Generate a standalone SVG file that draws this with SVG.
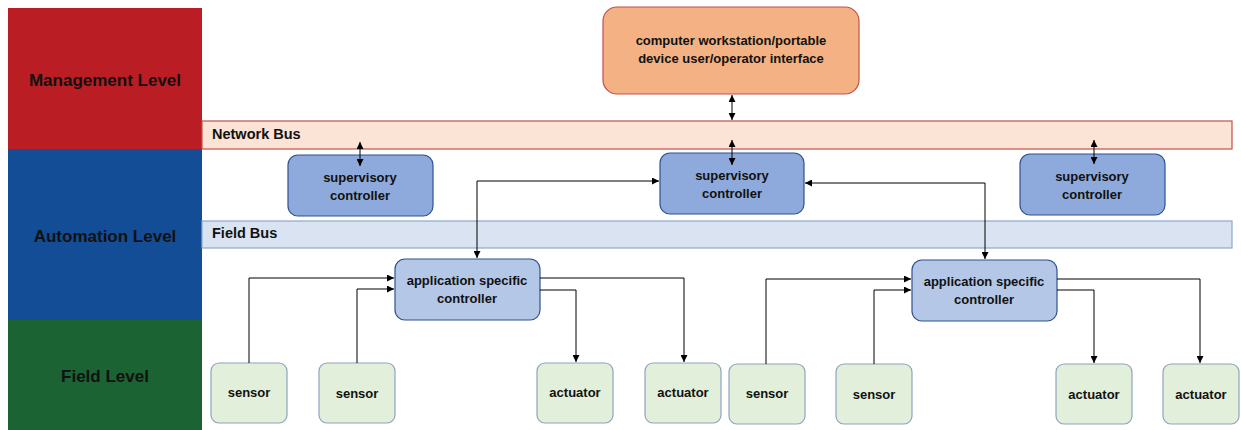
<svg xmlns="http://www.w3.org/2000/svg" width="1241" height="430" viewBox="0 0 1241 430">
  <style>
    .lvl { font-family: "Liberation Sans", Arial, sans-serif; font-weight: bold; font-size: 17px; fill: #111; text-anchor: middle; }
    .bus { font-family: "Liberation Sans", Arial, sans-serif; font-weight: bold; font-size: 14.5px; fill: #111; }
    .lbl { font-family: "Liberation Sans", Arial, sans-serif; font-weight: bold; font-size: 13px; fill: #111; text-anchor: middle; }
    .sup { fill: #8EA9DB; stroke: #2F528F; stroke-width: 1.2; }
    .app { fill: #B4C7E7; stroke: #2F528F; stroke-width: 1.2; }
    .dev { fill: #E2EFDA; stroke: #8EA4BE; stroke-width: 1.2; }
    .ws { fill: #F4B183; stroke: #C0504D; stroke-width: 1.2; }
    .wire { fill: none; stroke: #000; stroke-width: 1; }
  </style>
  <defs>
    <marker id="arrow" viewBox="0 0 10 10" refX="10" refY="5" markerWidth="7" markerHeight="7" orient="auto-start-reverse" markerUnits="userSpaceOnUse">
      <path d="M0,0 L10,5 L0,10 z" fill="#000"/>
    </marker>
  </defs>

  <rect width="1241" height="430" fill="#fff"/>

  <!-- level bands -->
  <g id="levels">
    <rect x="8" y="8" width="194" height="141" fill="#BB1D24"/>
    <rect x="8" y="149" width="194" height="171" fill="#134D95"/>
    <rect x="8" y="320" width="194" height="110" fill="#1B6332"/>
    <text class="lvl" x="105" y="86">Management  Level</text>
    <text class="lvl" x="105" y="242">Automation  Level</text>
    <text class="lvl" x="105" y="382">Field Level</text>
  </g>

  <!-- buses -->
  <g id="network-bus">
    <rect x="202" y="121" width="1030" height="28" fill="#FBE3D5" stroke="#C0504D" stroke-width="1.2"/>
    <text class="bus" x="212" y="139">Network Bus</text>
  </g>
  <g id="field-bus">
    <rect x="202" y="221" width="1030" height="27" fill="#DAE3F1" stroke="#8EA9C8" stroke-width="1.2"/>
    <text class="bus" x="212" y="238">Field Bus</text>
  </g>

  <!-- management node -->
  <g id="workstation">
    <rect class="ws" x="603" y="7" width="256" height="87" rx="14"/>
    <text class="lbl" x="731" y="45">computer workstation/portable</text>
    <text class="lbl" x="731" y="63">device user/operator interface</text>
  </g>

  <!-- supervisory controllers -->
  <g id="supervisory-1">
    <rect class="sup" x="288" y="155" width="145" height="61" rx="10"/>
    <text class="lbl" x="360" y="182">supervisory</text>
    <text class="lbl" x="360" y="200">controller</text>
  </g>
  <g id="supervisory-2">
    <rect class="sup" x="660" y="153" width="144" height="61" rx="10"/>
    <text class="lbl" x="732" y="180">supervisory</text>
    <text class="lbl" x="732" y="198">controller</text>
  </g>
  <g id="supervisory-3">
    <rect class="sup" x="1020" y="154" width="145" height="61" rx="10"/>
    <text class="lbl" x="1092" y="181">supervisory</text>
    <text class="lbl" x="1092" y="199">controller</text>
  </g>

  <!-- application specific controllers -->
  <g id="app-controller-1">
    <rect class="app" x="395" y="259" width="145" height="61" rx="10"/>
    <text class="lbl" x="467" y="285">application specific</text>
    <text class="lbl" x="467" y="303">controller</text>
  </g>
  <g id="app-controller-2">
    <rect class="app" x="912" y="260" width="145" height="61" rx="10"/>
    <text class="lbl" x="984" y="286">application specific</text>
    <text class="lbl" x="984" y="304">controller</text>
  </g>

  <!-- field devices -->
  <g id="sensor-1">
    <rect class="dev" x="211" y="363" width="76" height="60" rx="8"/>
    <text class="lbl" x="249" y="397">sensor</text>
  </g>
  <g id="sensor-2">
    <rect class="dev" x="319" y="363" width="76" height="60" rx="8"/>
    <text class="lbl" x="357" y="398">sensor</text>
  </g>
  <g id="actuator-1">
    <rect class="dev" x="537" y="363" width="76" height="60" rx="8"/>
    <text class="lbl" x="575" y="397">actuator</text>
  </g>
  <g id="actuator-2">
    <rect class="dev" x="645" y="363" width="76" height="60" rx="8"/>
    <text class="lbl" x="683" y="397">actuator</text>
  </g>
  <g id="sensor-3">
    <rect class="dev" x="729" y="364" width="76" height="60" rx="8"/>
    <text class="lbl" x="767" y="398">sensor</text>
  </g>
  <g id="sensor-4">
    <rect class="dev" x="836" y="364" width="76" height="60" rx="8"/>
    <text class="lbl" x="874" y="399">sensor</text>
  </g>
  <g id="actuator-3">
    <rect class="dev" x="1056" y="364" width="76" height="60" rx="8"/>
    <text class="lbl" x="1094" y="399">actuator</text>
  </g>
  <g id="actuator-4">
    <rect class="dev" x="1163" y="364" width="76" height="60" rx="8"/>
    <text class="lbl" x="1201" y="399">actuator</text>
  </g>

  <!-- connectors, drawn last so the bus links show over the controller boxes -->
  <g id="connectors" class="wire">
    <!-- workstation / network bus / supervisory controllers -->
    <line x1="732" y1="95" x2="732" y2="120" marker-start="url(#arrow)" marker-end="url(#arrow)"/>
    <line x1="732" y1="140" x2="732" y2="165" marker-start="url(#arrow)" marker-end="url(#arrow)"/>
    <line x1="360" y1="142" x2="360" y2="166" marker-start="url(#arrow)" marker-end="url(#arrow)"/>
    <line x1="1094" y1="140" x2="1094" y2="164" marker-start="url(#arrow)" marker-end="url(#arrow)"/>
    <!-- supervisory controller to application controllers -->
    <path d="M477,258 V181 H659" marker-start="url(#arrow)" marker-end="url(#arrow)"/>
    <path d="M805,183 H985 V259" marker-start="url(#arrow)" marker-end="url(#arrow)"/>
    <!-- left application controller -->
    <path d="M249,363 V278 H394" marker-end="url(#arrow)"/>
    <path d="M357,363 V289 H394" marker-end="url(#arrow)"/>
    <path d="M540,290 H576 V362" marker-end="url(#arrow)"/>
    <path d="M540,278 H684 V362" marker-end="url(#arrow)"/>
    <!-- right application controller -->
    <path d="M766,364 V279 H911" marker-end="url(#arrow)"/>
    <path d="M874,364 V290 H911" marker-end="url(#arrow)"/>
    <path d="M1057,290 H1094 V363" marker-end="url(#arrow)"/>
    <path d="M1057,279 H1200 V363" marker-end="url(#arrow)"/>
  </g>
</svg>
